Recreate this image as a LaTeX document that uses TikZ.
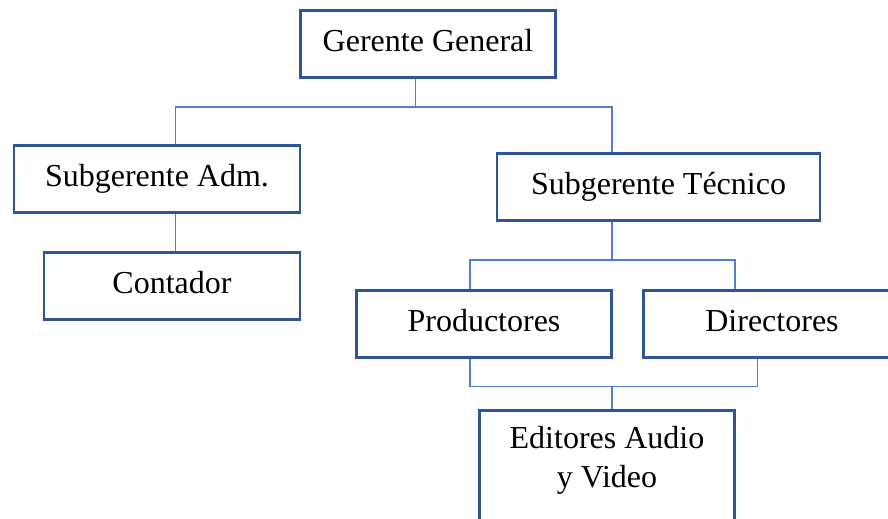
\documentclass[tikz,border=0pt]{standalone}
\usepackage{fontspec}
\setmainfont{Liberation Serif}
\usetikzlibrary{backgrounds}
\definecolor{boxblue}{HTML}{2F5597}
\definecolor{linkblue}{HTML}{4F7FCC}
\tikzset{
  orgfont/.style={font=\fontsize{24}{29.3}\selectfont},
  orgbox/.style={orgfont, draw=boxblue, line width=2.1pt, fill=white, inner sep=0pt,
    text height=16.6pt, text depth=5.3pt},
  link/.style={draw=linkblue, line width=1.1pt},
}
\begin{document}
\begin{tikzpicture}[x=0.75pt, y=-0.75pt]
  \useasboundingbox (0,0) rectangle (888,518);
  \clip (0,0) rectangle (888,518);

  % boxes (sizes in px, 0.75pt each)
  \node[orgbox, minimum width=255*0.75pt, minimum height=67*0.75pt] (gg) at (428,44) {Gerente General};
  \node[orgbox, minimum width=286*0.75pt, minimum height=67*0.75pt] (sa) at (157,178.7) {Subgerente Adm.};
  \node[orgbox, minimum width=256*0.75pt, minimum height=67*0.75pt] (co) at (172,286) {Contador};
  \node[orgbox, minimum width=323*0.75pt, minimum height=67*0.75pt] (st) at (658.5,187) {Subgerente Técnico};
  \node[orgbox, minimum width=255*0.75pt, minimum height=67*0.75pt] (pr) at (484,324) {Productores};
  \node[orgbox, minimum width=257*0.75pt, minimum height=67*0.75pt] (di) at (772,324) {Directores};
  \node[orgbox, minimum width=255*0.75pt, minimum height=130*0.75pt, anchor=north] (ed) at (607,409) {};
  \node[orgfont, align=center, inner sep=0pt] (edt) at (607,460) {Editores Audio\\y Video};

  % bus junctions
  \coordinate (b1) at (415.5,107);
  \coordinate (b1l) at (175.5,107);
  \coordinate (b1r) at (612,107);
  \coordinate (b2) at (612,260);
  \coordinate (b2l) at (470,260);
  \coordinate (b2r) at (735,260);
  \coordinate (b3) at (612,386.5);
  \coordinate (b3l) at (470,386.5);
  \coordinate (b3r) at (757.5,386.5);

  \begin{scope}[on background layer]
    \draw[link] (gg.south -| b1) -- (b1);
    \draw[link] (sa.north -| b1l) -- (b1l) -- (b1r) -- (st.north -| b1r);
    \draw[link] (sa.south -| b1l) -- (co.north -| b1l);
    \draw[link] (st.south -| b2) -- (b2);
    \draw[link] (pr.north -| b2l) -- (b2l) -- (b2r) -- (di.north -| b2r);
    \draw[link] (pr.south -| b3l) -- (b3l) -- (b3r) -- (di.south -| b3r);
    \draw[link] (b3) -- (ed.north -| b3);
  \end{scope}
\end{tikzpicture}
\end{document}
